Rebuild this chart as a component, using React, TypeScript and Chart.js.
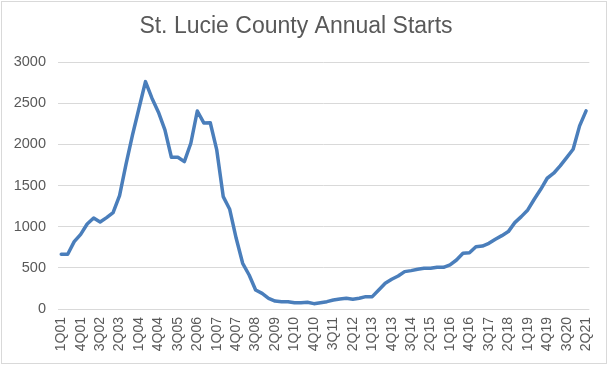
import React, { useEffect, useRef } from "react";
import { Chart, registerables } from "chart.js";

Chart.register(...registerables);

const TITLE = "St. Lucie County Annual Starts";

const years: string[] = [
  "01", "02", "03", "04", "05", "06", "07", "08", "09", "10",
  "11", "12", "13", "14", "15", "16", "17", "18", "19", "20", "21",
];

const quarterLabels: string[] = [];
years.forEach((y) => {
  for (let q = 1; q <= 4; q++) {
    if (y === "21" && q > 2) break;
    quarterLabels.push(`${q}Q${y}`);
  }
});

const starts: number[] = [
  665, 665, 818, 907, 1033, 1105, 1057, 1110, 1170, 1377,
  1760, 2114, 2438, 2762, 2560, 2390, 2175, 1843, 1843, 1790,
  2013, 2405, 2260, 2262, 1932, 1365, 1211, 859, 555, 413,
  231, 190, 130, 97, 89, 89, 77, 77, 81, 65,
  77, 89, 109, 121, 130, 118, 130, 150, 150, 231,
  312, 361, 401, 454, 466, 482, 494, 494, 506, 506,
  535, 595, 676, 684, 757, 765, 798, 847, 891, 940,
  1049, 1122, 1203, 1333, 1454, 1588, 1649, 1738, 1839, 1940,
  2224, 2406,
];

const yMin = 0;
const yMax = 3000;
const yStep = 500;

const borderPlugin = {
  id: "outerBorder",
  afterDraw(chart: any) {
    const ctx = chart.ctx;
    ctx.save();
    ctx.strokeStyle = "#d9d9d9";
    ctx.lineWidth = 1;
    ctx.strokeRect(1.5, 1.5, 605, 362);
    ctx.restore();
  },
};

export default function App() {
  const ref = useRef<HTMLCanvasElement | null>(null);

  useEffect(() => {
    if (!ref.current) return;
    const chart = new Chart(ref.current, {
      type: "line",
      data: {
        labels: quarterLabels,
        datasets: [
          {
            data: starts,
            borderColor: "#4a7ebb",
            backgroundColor: "#4a7ebb",
            borderWidth: 3.5,
            pointRadius: 0,
            pointHoverRadius: 0,
            tension: 0,
            borderJoinStyle: "round",
            borderCapStyle: "round",
          },
        ],
      },
      options: {
        animation: false,
        responsive: false,
        maintainAspectRatio: false,
        layout: { padding: { left: 0, right: 19, top: 0, bottom: 0 } },
        plugins: {
          legend: { display: false },
          tooltip: { enabled: false },
          title: {
            display: true,
            text: TITLE,
            color: "#595959",
            font: { family: "'Liberation Sans', Arial, sans-serif", size: 23, weight: "normal", lineHeight: 1 },
            padding: { top: 15.5, bottom: 23.5 },
          },
        },
        scales: {
          x: {
            type: "category",
            offset: true,
            grid: { display: false, drawTicks: false },
            border: { display: false },
            ticks: {
              autoSkip: false,
              minRotation: 90,
              maxRotation: 90,
              padding: 8,
              color: "#595959",
              font: { family: "'Liberation Sans', Arial, sans-serif", size: 14 },
              callback: (_v: any, i: number) => (i % 3 === 0 ? quarterLabels[i] : ""),
            },
            afterFit: (scale: any) => {
              scale.height = 58;
            },
          },
          y: {
            min: yMin,
            max: yMax,
            grid: { color: "#d9d9d9", lineWidth: 1, drawTicks: false },
            border: { display: false },
            ticks: {
              stepSize: yStep,
              padding: 12,
              color: "#595959",
              font: { family: "'Liberation Sans', Arial, sans-serif", size: 14.5 },
              callback: (v: any) => String(v),
            },
            afterFit: (scale: any) => {
              scale.width = 58;
            },
          },
        },
      },
      plugins: [borderPlugin],
    });
    return () => chart.destroy();
  }, []);

  return (
    <div style={{ position: "fixed", left: 0, top: 0, width: 611, height: 367, background: "#fff" }}>
      <canvas ref={ref} width={611} height={367} style={{ width: 611, height: 367, display: "block" }} />
    </div>
  );
}
